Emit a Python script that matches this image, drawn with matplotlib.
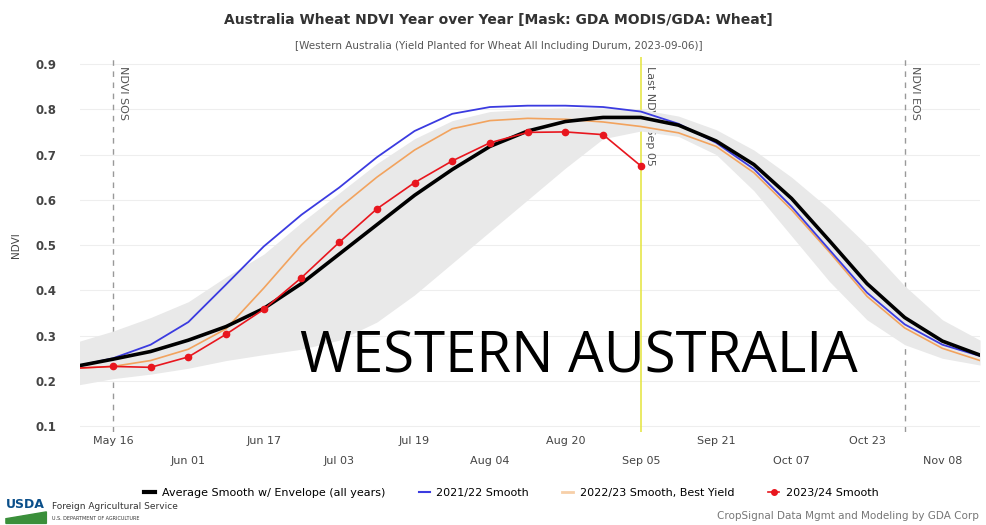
import matplotlib
matplotlib.use("Agg")
import matplotlib.pyplot as plt
from matplotlib.lines import Line2D
from matplotlib.patches import Polygon
import pandas as pd

# --- Data (8-day composites, 2023 calendar) ---
dates = pd.to_datetime([
    "2023-05-08", "2023-05-16", "2023-05-24", "2023-06-01", "2023-06-09",
    "2023-06-17", "2023-06-25", "2023-07-03", "2023-07-11", "2023-07-19",
    "2023-07-27", "2023-08-04", "2023-08-12", "2023-08-20", "2023-08-28",
    "2023-09-05", "2023-09-13", "2023-09-21", "2023-09-29", "2023-10-07",
    "2023-10-15", "2023-10-23", "2023-10-31", "2023-11-08", "2023-11-16",
])
avg_smooth = [0.232, 0.248, 0.265, 0.29, 0.32, 0.36, 0.415, 0.48, 0.545, 0.61,
              0.667, 0.718, 0.752, 0.773, 0.782, 0.782, 0.765, 0.73, 0.678, 0.603,
              0.51, 0.415, 0.34, 0.288, 0.257]
env_low = [0.19, 0.205, 0.215, 0.228, 0.245, 0.258, 0.27, 0.29, 0.33, 0.39,
           0.46, 0.53, 0.60, 0.67, 0.735, 0.752, 0.74, 0.70, 0.62, 0.52,
           0.42, 0.335, 0.28, 0.25, 0.235]
env_high = [0.285, 0.31, 0.34, 0.375, 0.43, 0.48, 0.55, 0.615, 0.68, 0.735,
            0.775, 0.795, 0.80, 0.803, 0.803, 0.80, 0.785, 0.755, 0.71, 0.65,
            0.58, 0.50, 0.41, 0.335, 0.29]
y2021 = [0.232, 0.25, 0.28, 0.33, 0.413, 0.497, 0.567, 0.627, 0.694, 0.752,
         0.79, 0.805, 0.808, 0.808, 0.805, 0.795, 0.768, 0.726, 0.668, 0.585,
         0.49, 0.395, 0.325, 0.28, 0.255]
y2022 = [0.228, 0.232, 0.245, 0.27, 0.315, 0.405, 0.50, 0.582, 0.65, 0.71,
         0.757, 0.775, 0.78, 0.778, 0.772, 0.762, 0.748, 0.718, 0.66, 0.578,
         0.485, 0.387, 0.317, 0.272, 0.245]
y2023 = [0.228, 0.232, 0.23, 0.253, 0.303, 0.358, 0.428, 0.506, 0.58, 0.638,
         0.686, 0.726, 0.749, 0.75, 0.744, 0.675]

row1_ticks = ["2023-05-16", "2023-06-17", "2023-07-19", "2023-08-20", "2023-09-21", "2023-10-23"]
row1_labels = ["May 16", "Jun 17", "Jul 19", "Aug 20", "Sep 21", "Oct 23"]
row2_ticks = ["2023-06-01", "2023-07-03", "2023-08-04", "2023-09-05", "2023-10-07", "2023-11-08"]
row2_labels = ["Jun 01", "Jul 03", "Aug 04", "Sep 05", "Oct 07", "Nov 08"]

sos_date = pd.Timestamp("2023-05-16")
eos_date = pd.Timestamp("2023-10-31")
last_date = pd.Timestamp("2023-09-05")

# --- Figure ---
fig = plt.figure(figsize=(9.87, 5.25), dpi=100)
ax = fig.add_axes([0.081, 0.177, 0.912, 0.714])

ax.fill_between(dates, env_low, env_high, color="#e9e9e9", lw=0, zorder=2)
ax.plot(dates, y2022, color="#f2a35e", lw=1.2, zorder=3)
ax.plot(dates, y2021, color="#3b3be0", lw=1.3, zorder=4)
ax.plot(dates, avg_smooth, color="black", lw=2.6, zorder=5)
ax.plot(dates[:len(y2023)], y2023, color="#e8161e", lw=1.2, marker="o", ms=4.5, zorder=6)

# marker lines
ax.axvline(sos_date, color="#999999", lw=1, ls=(0, (4, 4)), zorder=1)
ax.axvline(eos_date, color="#999999", lw=1, ls=(0, (4, 4)), zorder=1)
ax.axvline(last_date, color="#e6e64a", lw=1.2, zorder=1.5)
ax.annotate("NDVI SOS", (sos_date, 0.895), xytext=(4, 0), textcoords="offset points",
            rotation=-90, ha="left", va="top", fontsize=8, color="#555555", zorder=1)
ax.annotate("NDVI EOS", (eos_date, 0.895), xytext=(4, 0), textcoords="offset points",
            rotation=-90, ha="left", va="top", fontsize=8, color="#555555", zorder=1)
ax.annotate("Last NDVI: Sep 05", (last_date, 0.895), xytext=(3, 0), textcoords="offset points",
            rotation=-90, ha="left", va="top", fontsize=8, color="#555555", zorder=1.6)

ax.set_xlim(pd.Timestamp("2023-05-09"), pd.Timestamp("2023-11-16"))
ax.set_ylim(0.087, 0.915)
ax.set_yticks([0.1, 0.2, 0.3, 0.4, 0.5, 0.6, 0.7, 0.8, 0.9])
ax.set_yticklabels(["0.1", "0.2", "0.3", "0.4", "0.5", "0.6", "0.7", "0.8", "0.9"])
ax.grid(axis="y", color="#eeeeee", lw=0.8, zorder=0)
ax.set_axisbelow(True)

ax.set_xticks(pd.to_datetime(row1_ticks))
ax.set_xticklabels(row1_labels)
ax.set_xticks(pd.to_datetime(row2_ticks), minor=True)
ax.set_xticklabels(row2_labels, minor=True)
ax.tick_params(axis="x", which="major", length=0, pad=3, labelsize=8, labelcolor="#444444")
ax.tick_params(axis="x", which="minor", length=0, pad=17, labelsize=8, labelcolor="#444444")
ax.tick_params(axis="y", length=0, pad=17, labelsize=8.5, labelcolor="#444444")
for lab in ax.get_yticklabels():
    lab.set_fontweight("bold")
for s in ax.spines.values():
    s.set_visible(False)
ax.set_ylabel("NDVI", fontsize=7.5, color="#444444", labelpad=10)

# big region label
ax.text(0.587, 0.29, "WESTERN AUSTRALIA", transform=fig.transFigure, ha="center",
        va="baseline", fontsize=40.5, family="Open Sans", color="black", zorder=7)

# titles
fig.text(0.505, 0.962, "Australia Wheat NDVI Year over Year [Mask: GDA MODIS/GDA: Wheat]",
         ha="center", va="center", fontsize=10, fontweight="bold", color="#333333")
fig.text(0.505, 0.913, "[Western Australia (Yield Planted for Wheat All Including Durum, 2023-09-06)]",
         ha="center", va="center", fontsize=7.5, color="#555555")

# legend
handles = [
    Line2D([], [], color="black", lw=3),
    Line2D([], [], color="#3b3be0", lw=1.5),
    Line2D([], [], color="#f7cfa8", lw=2),
    Line2D([], [], color="#e8161e", lw=1.2, marker="o", ms=4),
]
labels = ["Average Smooth w/ Envelope (all years)", "2021/22 Smooth",
          "2022/23 Smooth, Best Yield", "2023/24 Smooth"]
fig.legend(handles, labels, loc="center", bbox_to_anchor=(0.518, 0.061), ncol=4,
           frameon=False, fontsize=8, handlelength=1.0, columnspacing=3.0, handletextpad=0.6)

# footer
fig.text(0.006, 0.04, "USDA", fontsize=9, fontweight="bold", color="#0b4f8a", va="center")
fig.patches.append(Polygon([[0.006, 0.003], [0.047, 0.003], [0.047, 0.025], [0.006, 0.012]],
                           closed=True, transform=fig.transFigure, color="#3a8f3a", figure=fig))
fig.text(0.053, 0.036, "Foreign Agricultural Service", fontsize=6.5, color="#333333", va="center")
fig.text(0.053, 0.013, "U.S. DEPARTMENT OF AGRICULTURE", fontsize=3.5, color="#333333", va="center")
fig.text(0.992, 0.018, "CropSignal Data Mgmt and Modeling by GDA Corp", fontsize=7.5,
         color="#777777", ha="right", va="center")

fig.savefig("out.png", dpi=100)
